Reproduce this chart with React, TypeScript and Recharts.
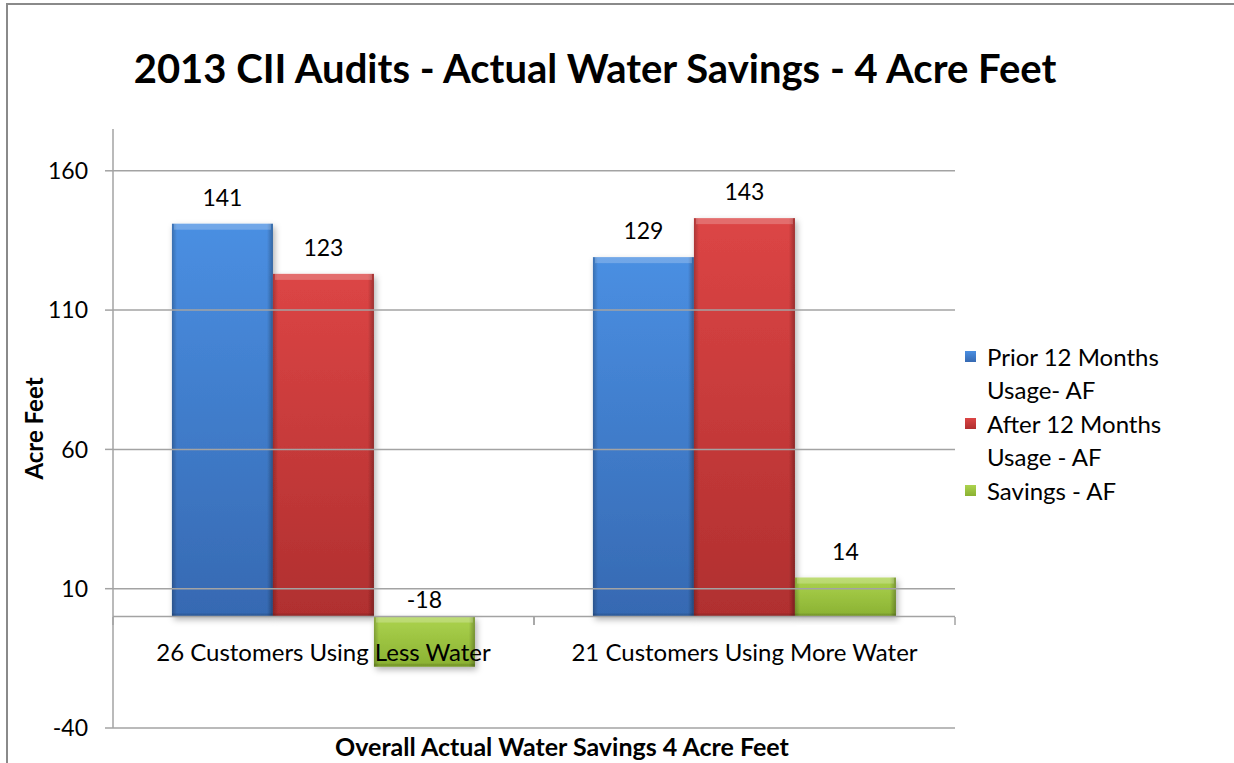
import React from 'react';
import { BarChart, Bar, XAxis, YAxis, ReferenceLine, LabelList } from 'recharts';

const categories = ['26 Customers Using Less Water', '21 Customers Using More Water'];
const priorUsage = [141, 129];
const afterUsage = [123, 143];
const savings = [-18, 14];
const seriesNames = ['Prior 12 Months Usage- AF', 'After 12 Months Usage - AF', 'Savings - AF'];
const yTicks = [-40, 10, 60, 110, 160];
const title = '2013 CII Audits - Actual Water Savings - 4 Acre Feet';
const xTitle = 'Overall Actual Water Savings 4 Acre Feet';
const yTitle = 'Acre Feet';

const data = categories.map((c, i) => ({
  name: c,
  prior: priorUsage[i],
  after: afterUsage[i],
  savings: savings[i],
}));

const FONT = "Lato, 'Open Sans', sans-serif";
const GRID = '#a3a3a3';

const palettes: Record<string, { top: string; bottom: string }> = {
  blue: { top: '#4a8fe2', bottom: '#3669b2' },
  red: { top: '#dc4545', bottom: '#b02f2f' },
  green: { top: '#acd34e', bottom: '#8ab132' },
};

const BevelBar = (props: any) => {
  const { x, y, width, height, kind } = props;
  if (width == null || height == null) return null;
  const top = Math.min(y, y + height);
  const h = Math.abs(height);
  return (
    <g filter="url(#barShadow)">
      <rect x={x} y={top} width={width} height={h} fill={`url(#grad-${kind})`} />
      <rect x={x} y={top} width={width} height={h} fill="url(#edgeShade)" />
      <rect x={x + 2} y={top} width={Math.max(0, width - 4)} height={Math.min(6, h)} fill="#ffffff" opacity={0.22} />
      <rect x={x} y={top + h - Math.min(3, h)} width={width} height={Math.min(3, h)} fill="#000000" opacity={0.12} />
    </g>
  );
};

const ValueLabel = (props: any) => {
  const { x, y, width, height, value } = props;
  const top = Math.min(y, y + height);
  const labelY = value < 0 ? top - 18 : top - 27;
  return (
    <text x={x + width / 2} y={labelY} textAnchor="middle" dominantBaseline="central" fontFamily={FONT} fontSize={23} fill="#000">
      {value}
    </text>
  );
};

const CategoryTick = (props: any) => {
  const { x, y, payload } = props;
  const half = payload && payload.offset ? payload.offset : 421 / 2;
  return (
    <g>
      <text x={x} y={y - 77} textAnchor="middle" dominantBaseline="central" fontFamily={FONT} fontSize={24} fill="#000">
        {payload.value}
      </text>
      <line x1={x - half} x2={x - half} y1={y - 111} y2={y - 103} stroke={GRID} strokeWidth={1.5} />
      <line x1={x + half} x2={x + half} y1={y - 111} y2={y - 103} stroke={GRID} strokeWidth={1.5} />
    </g>
  );
};

const YTitle = (props: any) => {
  const { viewBox } = props;
  const cx = viewBox.x + 33;
  const cy = viewBox.y + viewBox.height / 2;
  return (
    <text x={cx} y={cy} transform={`rotate(-90 ${cx} ${cy})`} textAnchor="middle" dominantBaseline="central" fontFamily={FONT} fontWeight={700} fontSize={24} fill="#000">
      {yTitle}
    </text>
  );
};

const legendKinds = ['blue', 'red', 'green'];

export default function App() {
  return (
    <div style={{ position: 'absolute', left: 0, top: 0, width: 1234, height: 763, background: '#fff', overflow: 'hidden', fontFamily: FONT }}>
      <svg width={0} height={0} style={{ position: 'absolute' }}>
        <defs>
          {legendKinds.map((k) => (
            <linearGradient key={k} id={`grad-${k}`} x1="0" y1="0" x2="0" y2="1">
              <stop offset="0" stopColor={palettes[k].top} />
              <stop offset="1" stopColor={palettes[k].bottom} />
            </linearGradient>
          ))}
          <linearGradient id="edgeShade" x1="0" y1="0" x2="1" y2="0">
            <stop offset="0" stopColor="#000" stopOpacity={0.22} />
            <stop offset="0.05" stopColor="#000" stopOpacity={0} />
            <stop offset="0.94" stopColor="#000" stopOpacity={0} />
            <stop offset="1" stopColor="#000" stopOpacity={0.28} />
          </linearGradient>
          <filter id="barShadow" x="-10%" y="-10%" width="130%" height="130%">
            <feDropShadow dx="2" dy="3" stdDeviation="3" floodColor="#000" floodOpacity={0.3} />
          </filter>
        </defs>
      </svg>
      <div style={{ position: 'absolute', left: 6, top: 3, width: 1300, height: 800, borderTop: '2px solid #8a8a8a', borderLeft: '2px solid #8a8a8a' }} />
      <div style={{ position: 'absolute', left: 0, width: 1190, top: 42, textAlign: 'center', fontWeight: 700, fontSize: 40, lineHeight: '52px', color: '#000', whiteSpace: 'nowrap' }}>
        {title}
      </div>
      <div style={{ position: 'absolute', left: 0, width: 1124, top: 731, textAlign: 'center', fontWeight: 700, fontSize: 25, lineHeight: '30px', color: '#000', whiteSpace: 'nowrap' }}>
        {xTitle}
      </div>
      <div style={{ position: 'absolute', left: 0, top: 0 }}>
        <BarChart width={1234} height={763} data={data} margin={{ top: 129, right: 279, bottom: 0, left: 0 }} barCategoryGap="14%" barGap={0}>
          <XAxis dataKey="name" height={35} axisLine={false} tickLine={false} tickSize={0} tickMargin={0} tick={<CategoryTick />} interval={0} />
          <YAxis
            width={113}
            domain={[-40, 175]}
            ticks={yTicks}
            allowDataOverflow
            axisLine={{ stroke: GRID, strokeWidth: 1.5 }}
            tickLine={{ stroke: GRID, strokeWidth: 1.5 }}
            tickSize={8}
            tickMargin={17}
            tick={{ fontFamily: FONT, fontSize: 23, fill: '#000' }}
            label={<YTitle />}
          />
          {yTicks.map((t) => (
            <ReferenceLine key={t} y={t} stroke={GRID} strokeWidth={1.5} />
          ))}
          <ReferenceLine y={0} stroke={GRID} strokeWidth={1.5} />
          <Bar dataKey="prior" name={seriesNames[0]} isAnimationActive={false} shape={(p: any) => <BevelBar {...p} kind="blue" />}>
            <LabelList dataKey="prior" content={<ValueLabel />} />
          </Bar>
          <Bar dataKey="after" name={seriesNames[1]} isAnimationActive={false} shape={(p: any) => <BevelBar {...p} kind="red" />}>
            <LabelList dataKey="after" content={<ValueLabel />} />
          </Bar>
          <Bar dataKey="savings" name={seriesNames[2]} isAnimationActive={false} shape={(p: any) => <BevelBar {...p} kind="green" />}>
            <LabelList dataKey="savings" content={<ValueLabel />} />
          </Bar>
        </BarChart>
      </div>
      <div style={{ position: 'absolute', left: 965, top: 340, width: 260 }}>
        {seriesNames.map((n, i) => (
          <div key={n} style={{ display: 'flex', alignItems: 'flex-start', marginBottom: 1 }}>
            <div style={{ width: 11, height: 11, marginTop: 11, marginRight: 11, flex: '0 0 11px', background: `linear-gradient(${palettes[legendKinds[i]].top}, ${palettes[legendKinds[i]].bottom})` }} />
            <div style={{ width: 200, fontSize: 24, lineHeight: '33px', color: '#000' }}>{n}</div>
          </div>
        ))}
      </div>
    </div>
  );
}
